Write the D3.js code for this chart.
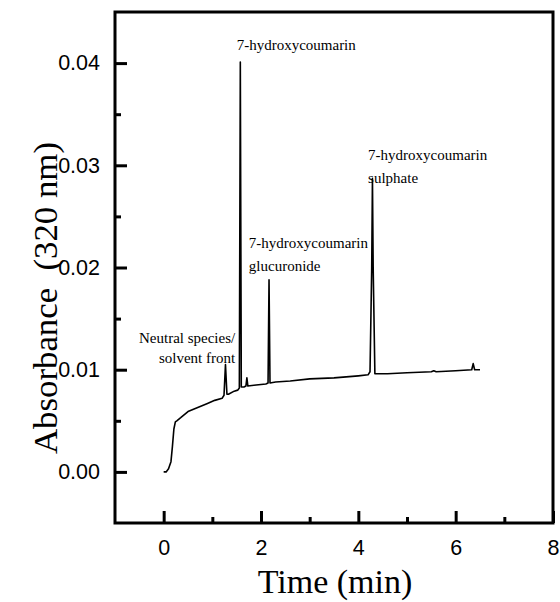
<!DOCTYPE html>
<html><head><meta charset="utf-8">
<script src="https://cdn.jsdelivr.net/npm/d3@7/dist/d3.min.js"></script>
<style>body{margin:0;background:#fff}svg{display:block}</style>
</head><body>
<svg id="c" width="560" height="602"></svg>
<script>
// Chromatogram data (time in min, absorbance at 320 nm)
const timeMin = [0, 0.05, 0.1, 0.15, 0.18, 0.21, 0.24, 0.27, 0.35, 0.5, 0.7, 0.9, 1.05, 1.2, 1.24, 1.27, 1.3, 1.33, 1.45, 1.52, 1.555, 1.575, 1.595, 1.65, 1.69, 1.71, 1.73, 1.9, 2.1, 2.145, 2.165, 2.185, 2.3, 2.6, 3.0, 3.5, 4.0, 4.2, 4.24, 4.275, 4.29, 4.305, 4.34, 4.6, 5.0, 5.5, 5.55, 5.6, 6.0, 6.33, 6.36, 6.39, 6.5];
const absorbance = [0.0000, 0.0000, 0.0003, 0.0010, 0.0025, 0.0042, 0.0049, 0.0050, 0.0053, 0.0059, 0.0063, 0.0067, 0.0070, 0.0072, 0.0075, 0.0105, 0.0076, 0.0076, 0.0079, 0.0080, 0.0082, 0.0401, 0.0083, 0.0083, 0.0084, 0.0092, 0.0084, 0.0085, 0.0086, 0.0087, 0.0188, 0.0087, 0.0088, 0.0089, 0.0091, 0.0092, 0.0094, 0.0095, 0.0098, 0.0200, 0.0287, 0.0200, 0.0096, 0.0096, 0.0097, 0.0098, 0.0099, 0.0098, 0.0099, 0.0100, 0.0106, 0.0100, 0.0100];

const xMajorTicks = [0, 2, 4, 6, 8];
const xMinorTicks = [1, 3, 5, 7];
const yMajorTicks = [0.00, 0.01, 0.02, 0.03, 0.04];
const yMinorTicks = [0.005, 0.015, 0.025, 0.035];

const annotationLines = [
  ["7-hydroxycoumarin"],
  ["7-hydroxycoumarin", "glucuronide"],
  ["7-hydroxycoumarin", "sulphate"],
  ["Neutral species/", "solvent front"]
];
const xTitle = "Time (min)";
const yTitle = "Absorbance\u00a0\u00a0(320 nm)";

const svg = d3.select("#c");
const L = 115, R = 553, T = 12, B = 523;
const x = d3.scaleLinear().domain([-1, 8]).range([L, R]);
const y = d3.scaleLinear().domain([-0.005, 0.045]).range([B, T]);

// trace
const line = d3.line().x(i => x(timeMin[i])).y(i => y(absorbance[i]));
svg.append("path").attr("d", line(d3.range(timeMin.length)))
  .attr("fill", "none").attr("stroke", "#000").attr("stroke-width", 1.6)
  .attr("stroke-linejoin", "round");

// axes (ticks inward)
const tickStyle = g => g.selectAll("line").attr("stroke", "#000").attr("stroke-width", 3);
const xAx = svg.append("g").attr("transform", `translate(0,${B})`)
  .call(d3.axisBottom(x).tickValues(xMajorTicks).tickSize(-12).tickSizeOuter(0).tickFormat(d3.format("d")).tickPadding(17));
const xMin = svg.append("g").attr("transform", `translate(0,${B})`)
  .call(d3.axisBottom(x).tickValues(xMinorTicks).tickSize(-6).tickSizeOuter(0).tickFormat(""));
const yAx = svg.append("g").attr("transform", `translate(${L},0)`)
  .call(d3.axisLeft(y).tickValues(yMajorTicks).tickSize(-12).tickSizeOuter(0).tickFormat(d3.format(".2f")).tickPadding(15));
const yMin = svg.append("g").attr("transform", `translate(${L},0)`)
  .call(d3.axisLeft(y).tickValues(yMinorTicks).tickSize(-6).tickSizeOuter(0).tickFormat(""));
[xAx, xMin, yAx, yMin].forEach(g => { g.select(".domain").remove(); tickStyle(g); });
[xAx, yAx].forEach(g => g.selectAll("text").attr("font-family", "Liberation Sans, Arial, sans-serif").attr("font-size", 21.5).attr("fill", "#000"));

// frame
svg.append("rect").attr("x", L).attr("y", T).attr("width", R - L).attr("height", B - T)
  .attr("fill", "none").attr("stroke", "#000").attr("stroke-width", 3);

// titles
svg.append("text").attr("x", 335).attr("y", 593).attr("text-anchor", "middle")
  .attr("font-family", "Liberation Serif, Times New Roman, serif").attr("font-size", 34).text(xTitle);
svg.append("text").attr("transform", `translate(57,298) rotate(-90)`).attr("text-anchor", "middle")
  .attr("font-family", "Liberation Serif, Times New Roman, serif").attr("font-size", 34)
  .attr("textLength", 312).attr("lengthAdjust", "spacingAndGlyphs").text(yTitle);

// annotations
const ann = svg.append("g").attr("font-family", "Liberation Serif, Times New Roman, serif").attr("font-size", 15).attr("fill", "#000");
const place = [
  {t: 1.5, v: 0.0413, anchor: "start", gap: 22},
  {t: 1.75, v: 0.0219, anchor: "start", gap: 23},
  {t: 4.2, v: 0.0305, anchor: "start", gap: 23},
  {t: 1.47, v: 0.0126, anchor: "end", gap: 20}
];
annotationLines.forEach((lines, i) => {
  const p = place[i];
  lines.forEach((s, j) => {
    ann.append("text").attr("x", x(p.t)).attr("y", y(p.v) + j * p.gap).attr("text-anchor", p.anchor).text(s);
  });
});
</script>
</body></html>
